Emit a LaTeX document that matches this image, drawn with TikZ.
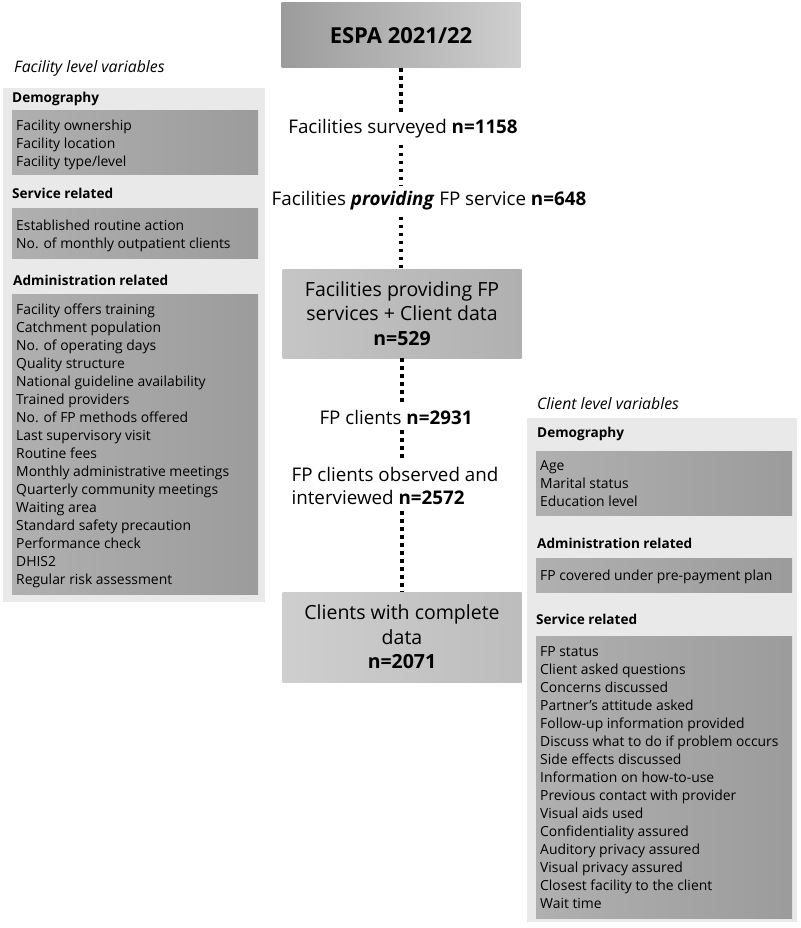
\documentclass[tikz,border=0pt]{standalone}
\usepackage{fontspec}
\setmainfont{Open Sans}
\usetikzlibrary{positioning}

\tikzset{
  flowbox/.style={minimum width=239pt, minimum height=89pt, inner sep=0pt,
    align=center, font=\fontsize{19.5}{24.5}\selectfont},
  flowtext/.style={align=center, inner sep=6pt, font=\fontsize{18.8}{23}\selectfont},
  dotline/.style={line width=3.6pt, dash pattern=on 3.6pt off 4.4pt},
  panel/.style={fill=gray!17},
  varbox/.style={left color=gray!62, right color=gray!78},
  vartitle/.style={anchor=base west, inner sep=0pt, font=\fontsize{13.6}{16}\selectfont\bfseries},
  varitem/.style={anchor=base west, inner sep=0pt, font=\fontsize{13.9}{18}\selectfont},
  paneltitle/.style={anchor=base west, inner sep=0pt, font=\fontsize{15.8}{18}\selectfont\itshape}
}

\begin{document}
\begin{tikzpicture}[x=1pt, y=-1pt]
\useasboundingbox (0,0) rectangle (800,928);

% left panel: facility level
\node[paneltitle] (factitle) at (14,73) {Facility level variables};
\path[panel] (3,88) rectangle (265,602);
\path[varbox] (12,111) rectangle (258,175);
\path[varbox] (12,208) rectangle (258,258);
\path[varbox] (12,294) rectangle (258,594);
\node[vartitle] (facdem) at (12,103) {Demography};
\node[vartitle] (facserv) at (12,198) {Service related};
\node[vartitle] (facadm) at (13,285) {Administration related};
\foreach \t [count=\i] in {Facility ownership, Facility location, Facility type/level}
  \node[varitem] (facdem\i) at (16,{131+(\i-1)*18}) {\t};
\foreach \t [count=\i] in {Established routine action, No. of monthly outpatient clients}
  \node[varitem] (facserv\i) at (16,{230+(\i-1)*18}) {\t};
\foreach \t [count=\i] in {Facility offers training, Catchment population,
    No. of operating days, Quality structure, National guideline availability,
    Trained providers, No. of FP methods offered, Last supervisory visit,
    Routine fees, Monthly administrative meetings, Quarterly community meetings,
    Waiting area, Standard safety precaution, Performance check, DHIS2,
    Regular risk assessment}
  \node[varitem] (facadm\i) at (16,{314+(\i-1)*18}) {\t};

% right panel: client level
\node[paneltitle] (clititle) at (537,409) {Client level variables};
\path[panel] (527,418) rectangle (797,922);
\path[varbox] (536,451) rectangle (792,515);
\path[varbox] (536,558) rectangle (792,592);
\path[varbox] (536,636) rectangle (792,918);
\node[vartitle] (clidem) at (537,437) {Demography};
\node[vartitle] (cliadm) at (537,548) {Administration related};
\node[vartitle] (cliserv) at (536,624) {Service related};
\foreach \t [count=\i] in {Age, Marital status, Education level}
  \node[varitem] (clidem\i) at (540,{470+(\i-1)*18}) {\t};
\node[varitem] (cliadm1) at (540,580) {FP covered under pre-payment plan};
\foreach \t [count=\i] in {FP status, Client asked questions, Concerns discussed,
    Partner’s attitude asked, Follow-up information provided,
    Discuss what to do if problem occurs, Side effects discussed,
    Information on how-to-use, Previous contact with provider, Visual aids used,
    Confidentiality assured, Auditory privacy assured, Visual privacy assured,
    Closest facility to the client, Wait time}
  \node[varitem] (cliserv\i) at (540,{656+(\i-1)*18}) {\t};

% centre: sample flow
\node[flowbox, minimum height=65pt, left color=gray!78, right color=gray!38,
  font=\fontsize{22}{24}\selectfont\bfseries] (espa) at (401,35.5) {ESPA 2021/22};
\node[flowtext] (surv) at (403,129) {Facilities surveyed \textbf{n=1158}};
\node[flowtext] (prov) at (429,201) {Facilities \textbf{\textit{providing}} FP service \textbf{n=648}};
\node[flowbox, left color=gray!45, right color=gray!62] (fpdata) at (402,313.5)
  {Facilities providing FP\\services + Client data\\\textbf{n=529}};
\node[flowtext] (fpcli) at (396,417) {FP clients \textbf{n=2931}};
\node[flowtext, align=left] (interv) at (395,486) {FP clients observed and\\interviewed \textbf{n=2572}};
\node[flowbox, minimum height=90pt, left color=gray!38, right color=gray!52] (complete) at (402,637)
  {Clients with complete\\data\\\textbf{n=2071}};

\draw[dotline] (espa.south) -- (espa.south |- surv.north);
\draw[dotline] (espa.south |- surv.south) -- (espa.south |- prov.north);
\draw[dotline] (espa.south |- prov.south) -- (espa.south |- fpdata.north);
\draw[dotline] (fpdata.south) -- (fpdata.south |- fpcli.north);
\draw[dotline] (fpdata.south |- fpcli.south) -- (fpdata.south |- interv.north);
\draw[dotline] (fpdata.south |- interv.south) -- (complete.north);
\end{tikzpicture}
\end{document}
